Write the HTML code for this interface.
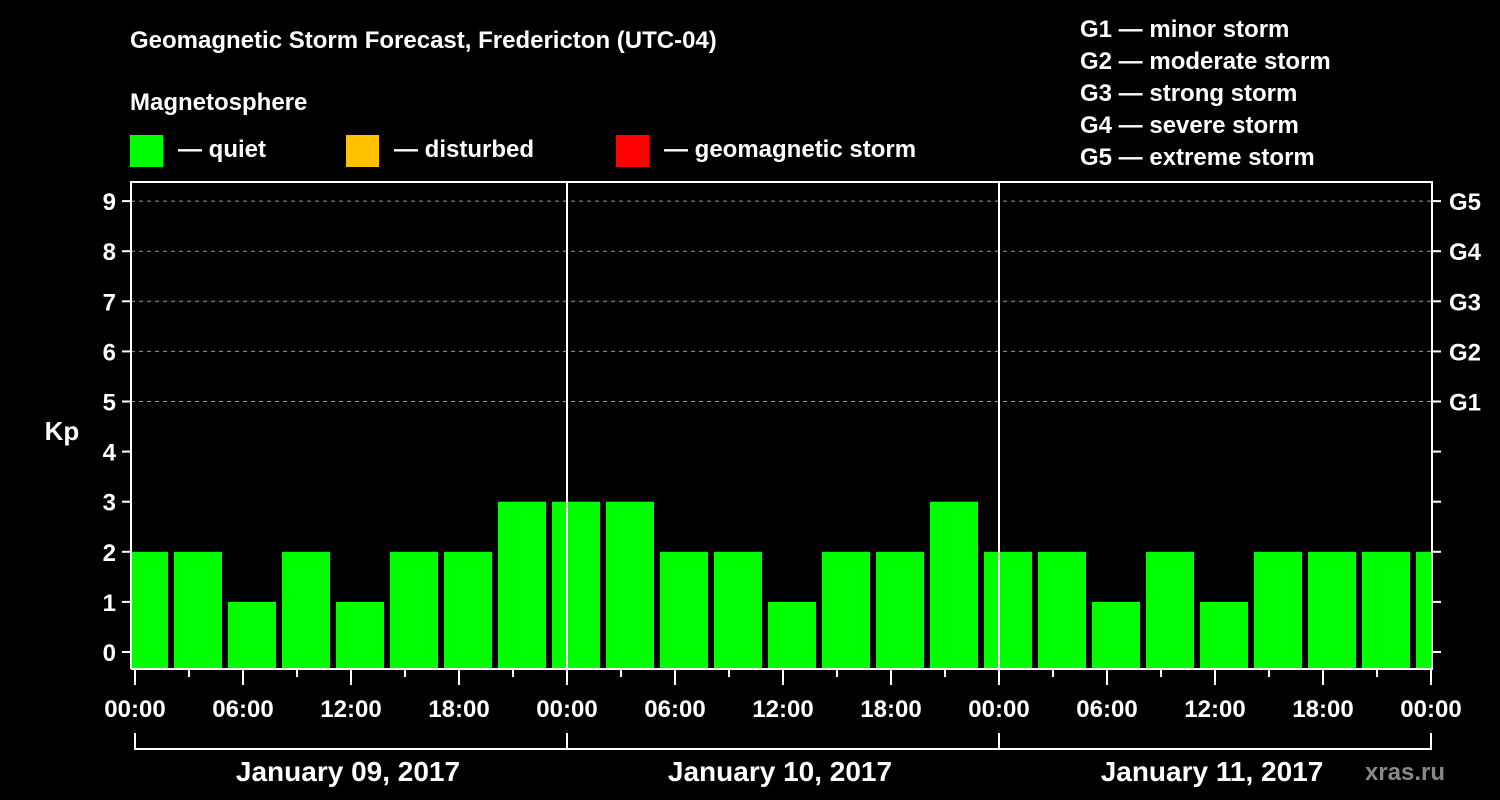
<!DOCTYPE html>
<html><head><meta charset="utf-8"><style>
html,body{margin:0;padding:0;background:#000;}
svg{display:block;font-family:"Liberation Sans",Arial,sans-serif;font-weight:bold;}
</style></head><body>
<svg id="chart" width="1500" height="800" viewBox="0 0 1500 800">
<rect x="0" y="0" width="1500" height="800" fill="#000"/>
<text x="130" y="48" fill="#fff" font-size="24">Geomagnetic Storm Forecast, Fredericton (UTC-04)</text>
<text x="130" y="110" fill="#fff" font-size="24">Magnetosphere</text>
<g><rect x="130" y="135" width="33" height="32" fill="#00ff00"/><text x="178" y="157" fill="#fff" font-size="24">— quiet</text></g>
<g><rect x="346" y="135" width="33" height="32" fill="#ffc000"/><text x="394" y="157" fill="#fff" font-size="24">— disturbed</text></g>
<g><rect x="616" y="135" width="33" height="32" fill="#ff0000"/><text x="664" y="157" fill="#fff" font-size="24">— geomagnetic storm</text></g>
<g fill="#fff" font-size="24">
<text x="1080" y="37">G1 — minor storm</text>
<text x="1080" y="69">G2 — moderate storm</text>
<text x="1080" y="101">G3 — strong storm</text>
<text x="1080" y="133">G4 — severe storm</text>
<text x="1080" y="165">G5 — extreme storm</text>
</g>
<text x="62" y="440" fill="#fff" font-size="26" text-anchor="middle">Kp</text>
<text x="1445" y="780" fill="#888" font-size="24" text-anchor="end">xras.ru</text>
<defs><clipPath id="plotclip"><rect x="132" y="183" width="1299" height="486"/></clipPath></defs>
<g id="grid"></g>
<g id="bars" clip-path="url(#plotclip)"></g>
<g id="axes"></g>
</svg>
<script>
const kpValues = [2,2,1,2,1,2,2,3,3,3,2,2,1,2,2,3,2,2,1,2,1,2,2,2,2];
const barStartHours = -1; // first 3h bar begins at 23:00 previous day
const yTicks = [0,1,2,3,4,5,6,7,8,9];
const gLabels = ["G1","G2","G3","G4","G5"];
const gLevels = [5,6,7,8,9];
const xTickLabels = ["00:00","06:00","12:00","18:00","00:00","06:00","12:00","18:00","00:00","06:00","12:00","18:00","00:00"];
const dayLabels = ["January 09, 2017","January 10, 2017","January 11, 2017"];

const NS="http://www.w3.org/2000/svg";
const x0=135, pxPerHour=18;
const xScale=h=>x0+h*pxPerHour;
const yScale=k=>652-k*50.1;
function mk(tag,attrs,parent){const e=document.createElementNS(NS,tag);for(const k in attrs)e.setAttribute(k,attrs[k]);parent.appendChild(e);return e;}
const grid=document.getElementById('grid'),bars=document.getElementById('bars'),axes=document.getElementById('axes');

yTicks.forEach(k=>{
  if(k>=5){const l=mk('line',{x1:131,x2:1432,y1:yScale(k),y2:yScale(k),stroke:'#999','stroke-width':1,'stroke-dasharray':'4,4'},grid);
  
  }
  const t=mk('line',{x1:122,x2:131,y1:yScale(k),y2:yScale(k),stroke:'#fff','stroke-width':2},axes);
  
  
  const t2=mk('line',{x1:1432,x2:1441,y1:yScale(k),y2:yScale(k),stroke:'#fff','stroke-width':2},axes);
  
  
  const lb=mk('text',{x:116,y:yScale(k)+9,fill:'#fff','font-size':24,'text-anchor':'end'},axes);
  lb.textContent=k;
  
  
});
gLabels.forEach((g,i)=>{
  const lb=mk('text',{x:1449,y:yScale(gLevels[i])+9,fill:'#fff','font-size':24},axes);
  lb.textContent=g;
  
  
});

kpValues.forEach((v,i)=>{
  const h=barStartHours+i*3;
  const c=v>=5?'#ff0000':(v>=4?'#ffc000':'#00ff00');
  const r=mk('rect',{x:xScale(h)+3,y:yScale(v),width:3*pxPerHour-6,height:668-yScale(v),fill:c},bars);
  
  
});

// frame
const fr=mk('path',{d:'M131,669 V182 H1432 V669 H131',fill:'none',stroke:'#fff','stroke-width':2},axes);


[1,2].forEach(d=>{
  const l=mk('line',{x1:xScale(d*24),x2:xScale(d*24),y1:182,y2:669,stroke:'#fff','stroke-width':2},axes);
  
  
});
for(let h=0;h<=72;h+=3){
  const major=h%6===0;
  const t=mk('line',{x1:xScale(h),x2:xScale(h),y1:669,y2:major?685:677,stroke:'#fff','stroke-width':2},axes);
  
  
}
xTickLabels.forEach((s,i)=>{
  const lb=mk('text',{x:xScale(i*6),y:717,fill:'#fff','font-size':24,'text-anchor':'middle'},axes);
  lb.textContent=s;
  
  
});
dayLabels.forEach((s,i)=>{
  const a=xScale(i*24),b=xScale((i+1)*24);
  const p=mk('path',{d:`M${a},733 V749 H${b} V733`,fill:'none',stroke:'#fff','stroke-width':2},axes);
  
  
  const lb=mk('text',{x:(a+b)/2-3,y:781,fill:'#fff','font-size':28,'text-anchor':'middle'},axes);
  lb.textContent=s;
  
  
});
</script>
</body></html>
